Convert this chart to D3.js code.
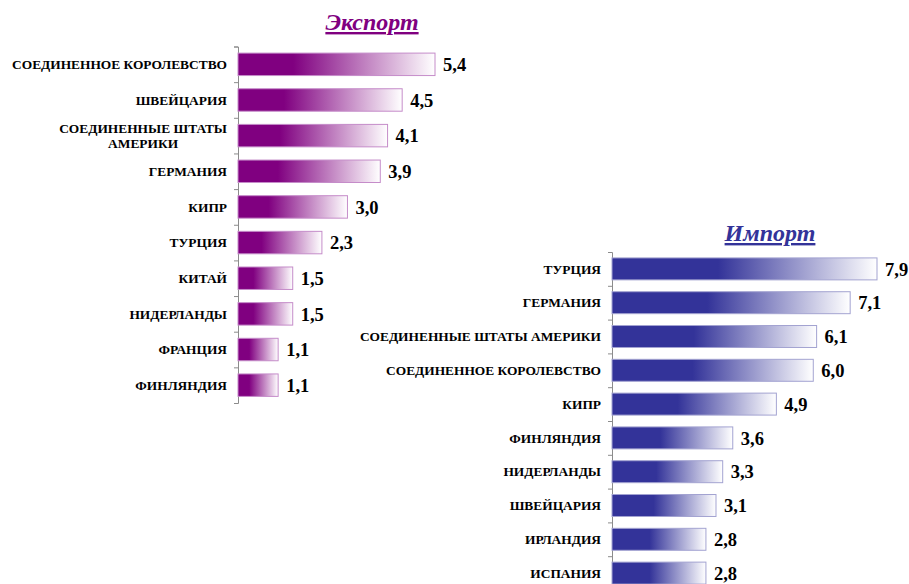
<!DOCTYPE html>
<html>
<head>
<meta charset="utf-8">
<script src="https://cdn.jsdelivr.net/npm/d3@7"></script>
<style>
    body { margin: 0; background: #fff; }
    .output svg { display: block; }
</style>
</head>
<body>
<div class="output"></div>
<script>
// Экспорт
let exportCountries = ["СОЕДИНЕННОЕ КОРОЛЕВСТВО", "ШВЕЙЦАРИЯ", "СОЕДИНЕННЫЕ ШТАТЫ АМЕРИКИ",
    "ГЕРМАНИЯ", "КИПР", "ТУРЦИЯ", "КИТАЙ", "НИДЕРЛАНДЫ", "ФРАНЦИЯ", "ФИНЛЯНДИЯ"];
let exportValues = [5.4, 4.5, 4.1, 3.9, 3.0, 2.3, 1.5, 1.5, 1.1, 1.1];

// Импорт
let importCountries = ["ТУРЦИЯ", "ГЕРМАНИЯ", "СОЕДИНЕННЫЕ ШТАТЫ АМЕРИКИ", "СОЕДИНЕННОЕ КОРОЛЕВСТВО",
    "КИПР", "ФИНЛЯНДИЯ", "НИДЕРЛАНДЫ", "ШВЕЙЦАРИЯ", "ИРЛАНДИЯ", "ИСПАНИЯ"];
let importValues = [7.9, 7.1, 6.1, 6.0, 4.9, 3.6, 3.3, 3.1, 2.8, 2.8];

let titles = ["Экспорт", "Импорт"];

let width = 909, height = 584;
let serif = "'Liberation Serif', 'Times New Roman', serif";

let svg = d3.select(".output")
    .append("svg")
    .attr("width", width)
    .attr("height", height);

let defs = svg.append("defs");
let locale = d3.formatLocale({ decimal: ",", thousands: " ", grouping: [3], currency: ["", ""] });
let fmt = locale.format(".1f");

function makeGradient(id, color, solidTo) {
    let g = defs.append("linearGradient")
        .attr("id", id)
        .attr("x1", "0").attr("x2", "1").attr("y1", "0").attr("y2", "0");
    g.append("stop").attr("offset", 0).attr("stop-color", color);
    g.append("stop").attr("offset", solidTo).attr("stop-color", color);
    g.append("stop").attr("offset", 1).attr("stop-color", "#ffffff");
}

function drawPanel(cfg) {
    let n = cfg.categories.length;

    let x = d3.scaleLinear()
        .domain([0, d3.max(cfg.values)])
        .range([cfg.left, cfg.right]);

    let y = d3.scaleBand()
        .domain(cfg.categories)
        .range([cfg.top, cfg.bottom])
        .paddingInner(cfg.pad)
        .paddingOuter(cfg.pad / 2);

    // Ось с делениями между полосами
    let yEdges = d3.scaleLinear().domain([0, n]).range([cfg.top, cfg.bottom]);
    let axis = svg.append("g")
        .attr("transform", "translate(" + cfg.left + ",0)")
        .call(d3.axisLeft(yEdges).ticks(n).tickSize(4).tickFormat(""));
    axis.selectAll("path, line").attr("stroke", "#8c8c8c");

    makeGradient(cfg.id, cfg.color, cfg.solidTo);

    // Полосы
    svg.append("g")
        .selectAll("rect")
        .data(cfg.values)
        .enter()
        .append("rect")
        .attr("x", x(0))
        .attr("y", (d, i) => y(cfg.categories[i]))
        .attr("width", (d) => x(d) - x(0))
        .attr("height", y.bandwidth())
        .attr("fill", "url(#" + cfg.id + ")")
        .attr("stroke", cfg.border)
        .attr("stroke-width", 1);

    // Значения
    svg.append("g")
        .selectAll("text")
        .data(cfg.values)
        .enter()
        .append("text")
        .attr("x", (d) => x(d) + 8)
        .attr("y", (d, i) => y(cfg.categories[i]) + y.bandwidth() / 2)
        .attr("dy", "0.36em")
        .text((d) => fmt(d))
        .style("font-family", serif)
        .style("font-weight", "bold")
        .style("font-size", "18.5px")
        .style("fill", "#000");

    // Подписи стран
    let labelRight = cfg.left - 11;
    cfg.categories.forEach((name, i) => {
        let cy = y(name) + y.bandwidth() / 2;
        let t = svg.append("text")
            .style("font-family", serif)
            .style("font-weight", "bold")
            .style("font-size", cfg.labelSize + "px")
            .style("fill", "#000");

        // перенос длинных подписей
        let words = name.split(" ");
        let lines = [];
        let cur = [];
        let probe = t.append("tspan");
        words.forEach((w) => {
            let test = cur.concat([w]).join(" ");
            probe.text(test);
            if (cur.length && probe.node().getComputedTextLength() > cfg.wrapWidth) {
                lines.push(cur.join(" "));
                cur = [w];
            } else {
                cur.push(w);
            }
        });
        lines.push(cur.join(" "));
        probe.remove();

        let lh = cfg.labelSize * 1.12;
        if (lines.length === 1) {
            t.attr("x", labelRight).attr("y", cy).attr("dy", "0.35em")
                .attr("text-anchor", "end").text(lines[0]);
        } else {
            let spans = lines.map((l, k) => t.append("tspan")
                .attr("y", cy + (k - (lines.length - 1) / 2) * lh)
                .attr("dy", "0.35em")
                .text(l));
            let maxW = d3.max(spans, (s) => s.node().getComputedTextLength());
            t.attr("text-anchor", "middle");
            spans.forEach((s) => s.attr("x", labelRight - maxW / 2));
        }
    });

    // Заголовок
    svg.append("text")
        .attr("x", cfg.titleX)
        .attr("y", cfg.titleY)
        .attr("text-anchor", "middle")
        .text(cfg.title)
        .style("font-family", serif)
        .style("font-weight", "bold")
        .style("font-style", "italic")
        .style("text-decoration", "underline")
        .style("font-size", "24px")
        .style("fill", cfg.color);
}

drawPanel({
    id: "gradExport",
    title: titles[0],
    categories: exportCountries,
    values: exportValues,
    color: "#800080",
    border: "#c58cc9",
    solidTo: 0.28,
    left: 238, right: 435,
    top: 46.5, bottom: 403,
    pad: 0.37,
    labelSize: 13.4,
    wrapWidth: 222,
    titleX: 372, titleY: 30
});

drawPanel({
    id: "gradImport",
    title: titles[1],
    categories: importCountries,
    values: importValues,
    color: "#333399",
    border: "#a3a3d1",
    solidTo: 0.4,
    left: 612, right: 877,
    top: 252, bottom: 590,
    pad: 0.35,
    labelSize: 13.4,
    wrapWidth: 300,
    titleX: 770, titleY: 241
});
</script>
</body>
</html>
